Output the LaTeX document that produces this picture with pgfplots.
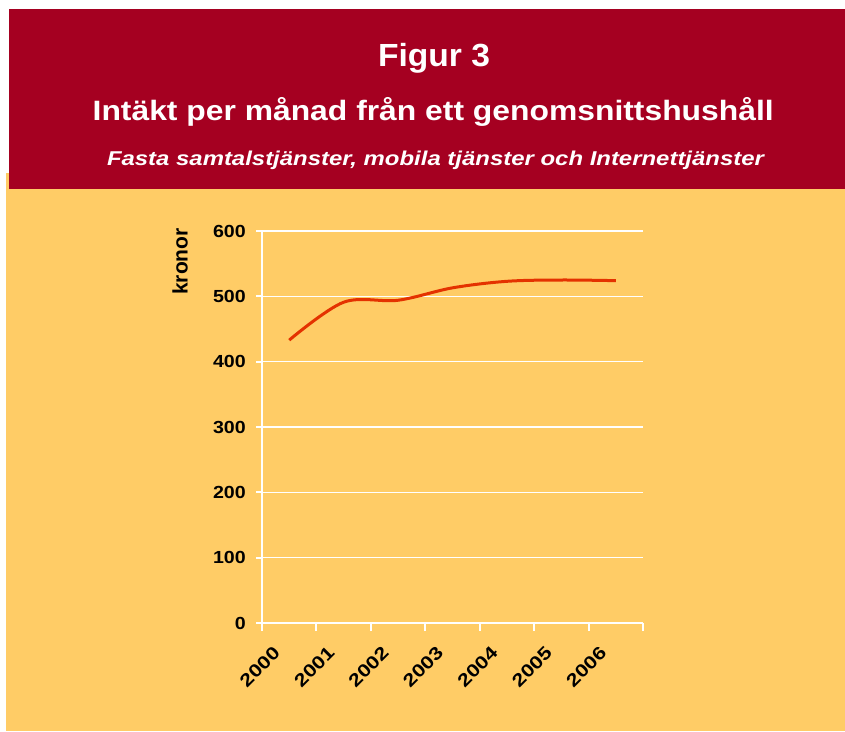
\documentclass[border=0pt]{standalone}
\usepackage{pgfplots}
\pgfplotsset{compat=1.18}
\usepackage{fontspec}
\setmainfont{Liberation Sans}
\newfontfamily\tickfont[FakeStretch=1.12]{Liberation Sans}
\newfontfamily\xtickfont[FakeStretch=1.2]{Liberation Sans}
\usepackage{graphicx}
\definecolor{hdr}{RGB}{165,0,33}
\definecolor{bg}{RGB}{255,204,102}
\definecolor{ln}{RGB}{228,50,0}
\begin{document}
\begin{tikzpicture}
\fill[white] (0pt,0pt) rectangle (845pt,731pt);
\fill[bg] (6pt,0pt) rectangle (845pt,558pt);
\fill[hdr] (9pt,542pt) rectangle (845pt,722pt);
\node[anchor=base, inner sep=0pt, text=white] at (434pt,664.3pt) {\resizebox{112pt}{\height}{\fontsize{32}{38}\selectfont\bfseries Figur 3}};
\node[anchor=base, inner sep=0pt, text=white] at (433.2pt,610.3pt) {\resizebox{681pt}{\height}{\fontsize{28}{33}\selectfont\bfseries Intäkt per månad från ett genomsnittshushåll}};
\node[anchor=base, inner sep=0pt, text=white] at (435.5pt,565pt) {\resizebox{657pt}{\height}{\fontsize{20}{24}\selectfont\bfseries\itshape Fasta samtalstjänster, mobila tjänster och Internettjänster}};
\node[rotate=90, inner sep=0pt, font=\bfseries\fontsize{21}{25}\selectfont] at (180pt,469.5pt) {kronor};
\begin{axis}[
  at={(262pt,108pt)}, anchor=south west,
  width=381pt, height=392pt, scale only axis,
  xmin=-0.5, xmax=6.5, ymin=0, ymax=600,
  axis lines*=left,
  axis line style={white, line width=2pt},
  xtick={0,...,6}, xticklabels={2000,2001,2002,2003,2004,2005,2006},
  minor xtick={-0.5,0.5,...,6.5},
  ytick={0,100,...,600},
  tick align=outside,
  major tick length=6pt, minor tick length=8pt,
  tick style={white, line width=2pt},
  major x tick style={draw=none},
  ymajorgrids, major grid style={white, line width=1.3pt},
  /pgf/number format/assume math mode=true,
  yticklabel style={font=\tickfont\bfseries\fontsize{17.5}{21}\selectfont, text=black, inner sep=0pt, xshift=-10pt},
  xticklabel style={font=\xtickfont\bfseries\fontsize{18}{21}\selectfont, text=black, xshift=-17pt, yshift=-16pt, rotate=45, anchor=north east, inner sep=0pt},
  clip=false,
]
\addplot[ln, line width=3pt, smooth, tension=0.55] coordinates {
 (0,433) (1,491) (2,494) (3,513) (4,523) (5,525) (6,524)};
\end{axis}
\end{tikzpicture}
\end{document}
